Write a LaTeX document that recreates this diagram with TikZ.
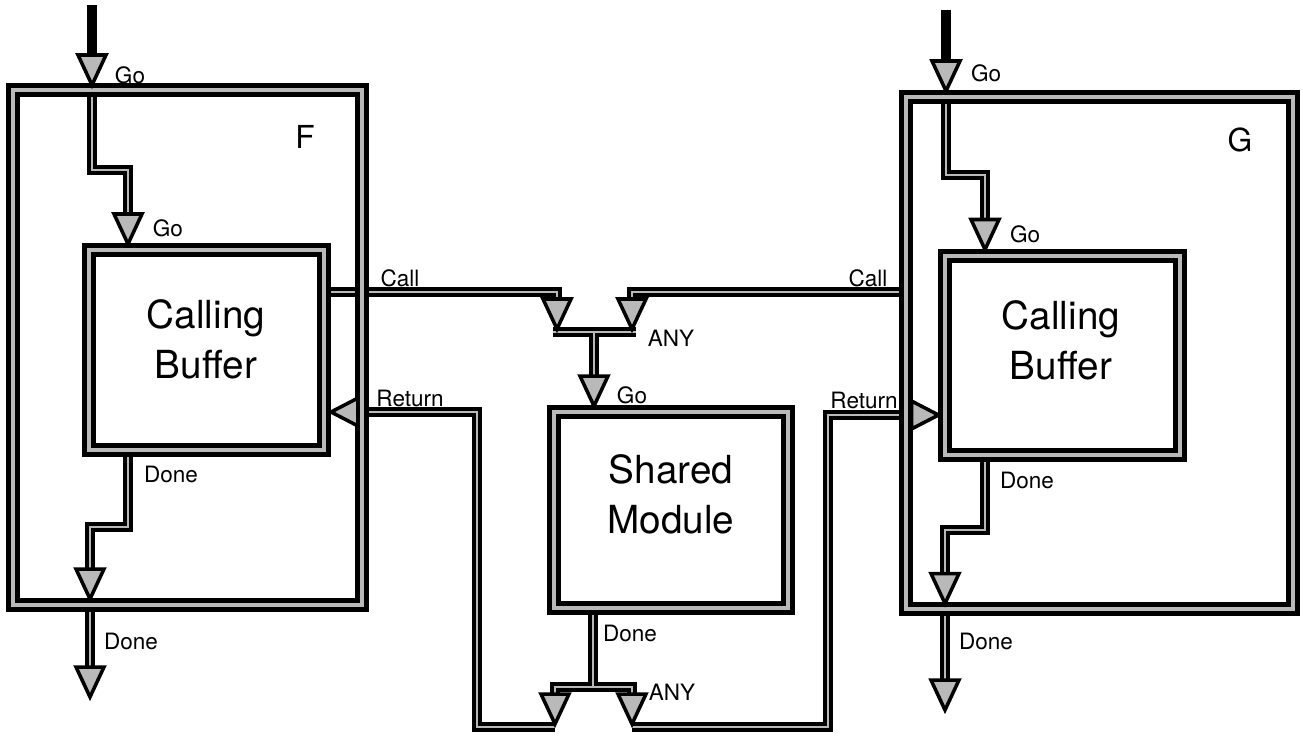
\documentclass[tikz,border=0pt]{standalone}
\usepackage{fontspec}
\setmainfont{TeX Gyre Heros}
\usetikzlibrary{calc, backgrounds}

% arrow heads (apex at the given point)
\newcommand{\tipdown}[1]{\filldraw[tip] (#1) -- ++(-14,-30) -- ++(28,0) -- cycle;}
\newcommand{\tipleft}[1]{\filldraw[tip] (#1) -- ++(27,-14) -- ++(0,28) -- cycle;}
\newcommand{\tipright}[1]{\filldraw[tip] (#1) -- ++(-27,-14) -- ++(0,28) -- cycle;}

\begin{document}
\begin{tikzpicture}[x=0.01cm, y=-0.01cm,
    frame/.style={draw=black, line width=1.3pt, double=gray!55, double distance=1.2pt, inner sep=0pt},
    wire/.style={draw=black, line width=0.95pt, double=gray!55, double distance=0.75pt},
    feed/.style={draw=black, line width=2.6pt},
    tip/.style={draw=black, line width=1pt, fill=gray!55, line join=miter},
    lbl/.style={font=\fontsize{6.4}{7}\selectfont, inner sep=0pt},
    big/.style={font=\fontsize{11}{14.2}\selectfont, align=center, inner sep=0pt}]
    \useasboundingbox (0,0) rectangle (1303,736);

    % Modules
    \node[frame, minimum width=3.49cm, minimum height=5.15cm] (frameF) at (187.5,347.5) {};
    \node[frame, minimum width=2.35cm, minimum height=2.00cm] (bufF) at (206.5,350) {};
    \node[frame, minimum width=2.34cm, minimum height=1.96cm] (shared) at (671,510) {};
    \node[frame, minimum width=3.87cm, minimum height=5.12cm] (frameG) at (1099.5,353) {};
    \node[frame, minimum width=2.35cm, minimum height=1.99cm] (bufG) at (1062.5,355.5) {};

    \node[big] (txtF) at (206,339) {Calling\\Buffer};
    \node[big] (txtG) at (1061,340) {Calling\\Buffer};
    \node[big] (txtS) at (671,494) {Shared\\Module};
    \node[font=\fontsize{9}{10}\selectfont] (nameF) at (305,137) {F};
    \node[font=\fontsize{9}{10}\selectfont] (nameG) at (1240,140) {G};

    % Wires (behind the frames)
    \begin{scope}[on background layer]
      % F: go in, done out
      \draw[feed] (92,5) -- (92,62);
      \draw[wire] (92,90) -- (92,170) -- (128,170) -- (128,220);
      \draw[wire] (bufF.south -| 128,0) -- (128,527) -- (90,527) -- (90,575);
      \draw[wire] (90,605) -- (90,673);

      % Call merge into shared module
      \draw[wire] (bufF.east |- 0,292) -- (557,292) -- (557,306);
      \draw[wire] (frameG.west |- 0,292) -- (632,292) -- (632,306);
      \draw[wire] (553,332) -- (636,332) (594,332) -- (594,382);

      % Done of shared module, split to returns
      \draw[wire] (555,700) -- (555,687) -- (632,687) -- (632,700)
                  (shared.south -| 593,0) -- (593,687);
      \draw[wire] (555,727) -- (477,727) -- (477,412) -- (355,412);
      \draw[wire] (632,727) -- (828,727) -- (828,415) -- (914,415);

      % G: go in, done out
      \draw[feed] (946,10) -- (946,68);
      \draw[wire] (946,97) -- (946,175) -- (985,175) -- (985,226);
      \draw[wire] (bufG.south -| 985,0) -- (985,530) -- (945,530) -- (945,580);
      \draw[wire] (945,610) -- (945,686);
    \end{scope}

    % Arrow heads
    \tipdown{92,85} \tipdown{128,244} \tipdown{90,599} \tipdown{90,697}
    \tipdown{557,329} \tipdown{632,329} \tipdown{594,406}
    \tipdown{555,724} \tipdown{632,724}
    \tipleft{331,412} \tipright{938.5,415}
    \tipdown{946,91} \tipdown{985,249.5} \tipdown{945,603.5} \tipdown{945,710}

    % Labels
    \node[lbl] (goF1) at (130,75) {Go};
    \node[lbl] (goF2) at (168,228) {Go};
    \node[lbl] (doneF1) at (171,474) {Done};
    \node[lbl] (doneF2) at (131,641) {Done};
    \node[lbl] (callF) at (400,278) {Call};
    \node[lbl] (callG) at (868,278) {Call};
    \node[lbl] (any1) at (671,338) {ANY};
    \node[lbl] (goS) at (632,395) {Go};
    \node[lbl] (retF) at (410,398) {Return};
    \node[lbl] (doneS) at (630,633) {Done};
    \node[lbl] (any2) at (672,692) {ANY};
    \node[lbl] (retG) at (864,400) {Return};
    \node[lbl] (goG1) at (986,73) {Go};
    \node[lbl] (goG2) at (1025,234) {Go};
    \node[lbl] (doneG1) at (1027,480) {Done};
    \node[lbl] (doneG2) at (986,641) {Done};
\end{tikzpicture}
\end{document}
